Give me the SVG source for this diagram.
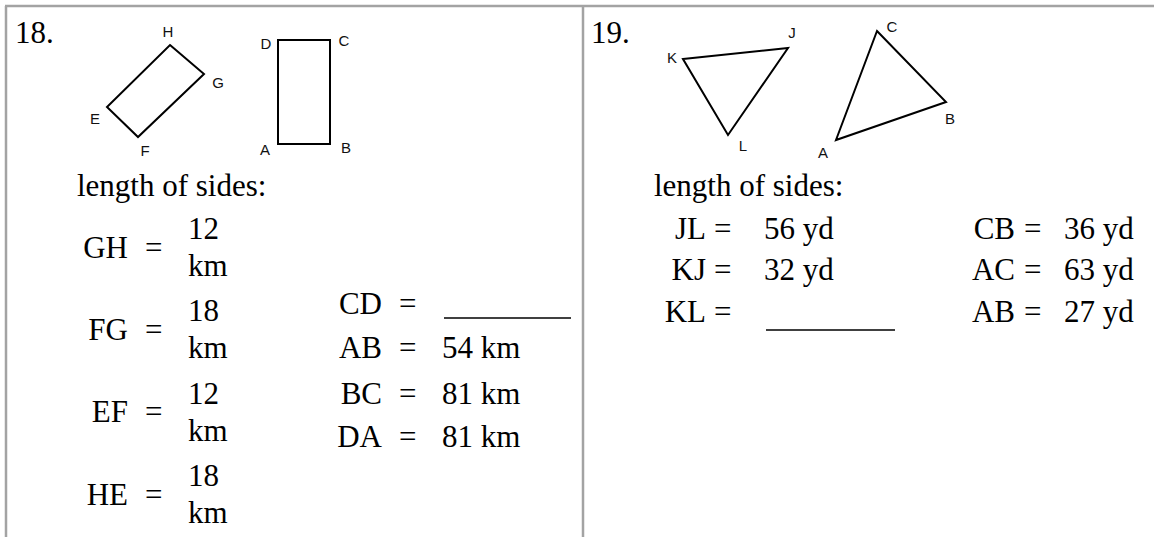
<svg xmlns="http://www.w3.org/2000/svg" width="1154" height="537" viewBox="0 0 1154 537">
<style>
.t{font-family:"Liberation Serif","Times New Roman",serif;font-size:31px;fill:#000}
.e{text-anchor:end}
.lbl{font-family:"Liberation Sans",Arial,sans-serif;font-size:15px;fill:#111;text-anchor:middle}
.shape{fill:none;stroke:#000;stroke-width:2;stroke-linejoin:miter}
.grid{stroke:#a3a3a3;stroke-width:2.5;fill:none}
.blank{stroke:#000;stroke-width:1.5}
</style>
<rect width="1154" height="537" fill="#fff"/>
<g id="table">
<line class="grid" x1="5" y1="6" x2="1154" y2="6"/>
<line class="grid" x1="6" y1="6" x2="6" y2="537"/>
<line class="grid" x1="583" y1="6" x2="583" y2="537"/>
</g>
<g id="problem18">
<text class="t" x="15" y="43">18.</text>
<g id="rect-EFGH">
<polygon class="shape" points="170,45 204,74 138,137 107,107"/>
<text class="lbl" x="168" y="37">H</text>
<text class="lbl" x="218" y="88">G</text>
<text class="lbl" x="95" y="124">E</text>
<text class="lbl" x="145" y="156">F</text>
</g>
<g id="rect-ABCD">
<rect class="shape" x="278" y="40" width="52" height="104"/>
<text class="lbl" x="266" y="49">D</text>
<text class="lbl" x="344" y="46">C</text>
<text class="lbl" x="265" y="155">A</text>
<text class="lbl" x="346" y="153">B</text>
</g>
<text class="t" x="77" y="196">length of sides:</text>
<g id="sides18a">
<text class="t e" x="128" y="258">GH</text><text class="t" x="145" y="258">=</text>
<text class="t" x="188" y="239">12</text><text class="t" x="188" y="276">km</text>
<text class="t e" x="128" y="340">FG</text><text class="t" x="145" y="340">=</text>
<text class="t" x="188" y="321">18</text><text class="t" x="188" y="358">km</text>
<text class="t e" x="128" y="422">EF</text><text class="t" x="145" y="422">=</text>
<text class="t" x="188" y="404">12</text><text class="t" x="188" y="441">km</text>
<text class="t e" x="128" y="505">HE</text><text class="t" x="145" y="505">=</text>
<text class="t" x="188" y="486">18</text><text class="t" x="188" y="523">km</text>
</g>
<g id="sides18b">
<text class="t e" x="382" y="314">CD</text><text class="t" x="399" y="314">=</text>
<line class="blank" x1="444" y1="318" x2="571" y2="318"/>
<text class="t e" x="382" y="358">AB</text><text class="t" x="399" y="358">=</text><text class="t" x="442" y="358">54 km</text>
<text class="t e" x="382" y="404">BC</text><text class="t" x="399" y="404">=</text><text class="t" x="442" y="404">81 km</text>
<text class="t e" x="382" y="447">DA</text><text class="t" x="399" y="447">=</text><text class="t" x="442" y="447">81 km</text>
</g>
</g>
<g id="problem19">
<text class="t" x="591" y="43">19.</text>
<g id="tri-KJL">
<polygon class="shape" points="683,59 788,48 728,135"/>
<text class="lbl" x="672" y="63">K</text>
<text class="lbl" x="792" y="38">J</text>
<text class="lbl" x="743" y="151">L</text>
</g>
<g id="tri-ABC">
<polygon class="shape" points="877,31 946,102 836,140"/>
<text class="lbl" x="892" y="32">C</text>
<text class="lbl" x="950" y="124">B</text>
<text class="lbl" x="823" y="158">A</text>
</g>
<text class="t" x="654" y="196">length of sides:</text>
<g id="sides19a">
<text class="t e" x="706" y="239">JL</text><text class="t" x="714" y="239">=</text><text class="t" x="764" y="239">56 yd</text>
<text class="t e" x="706" y="280">KJ</text><text class="t" x="714" y="280">=</text><text class="t" x="764" y="280">32 yd</text>
<text class="t e" x="706" y="322">KL</text><text class="t" x="714" y="322">=</text>
<line class="blank" x1="766" y1="330" x2="895" y2="330"/>
</g>
<g id="sides19b">
<text class="t e" x="1015" y="239">CB</text><text class="t" x="1024" y="239">=</text><text class="t" x="1064" y="239">36 yd</text>
<text class="t e" x="1015" y="280">AC</text><text class="t" x="1024" y="280">=</text><text class="t" x="1064" y="280">63 yd</text>
<text class="t e" x="1015" y="322">AB</text><text class="t" x="1024" y="322">=</text><text class="t" x="1064" y="322">27 yd</text>
</g>
</g>
</svg>
